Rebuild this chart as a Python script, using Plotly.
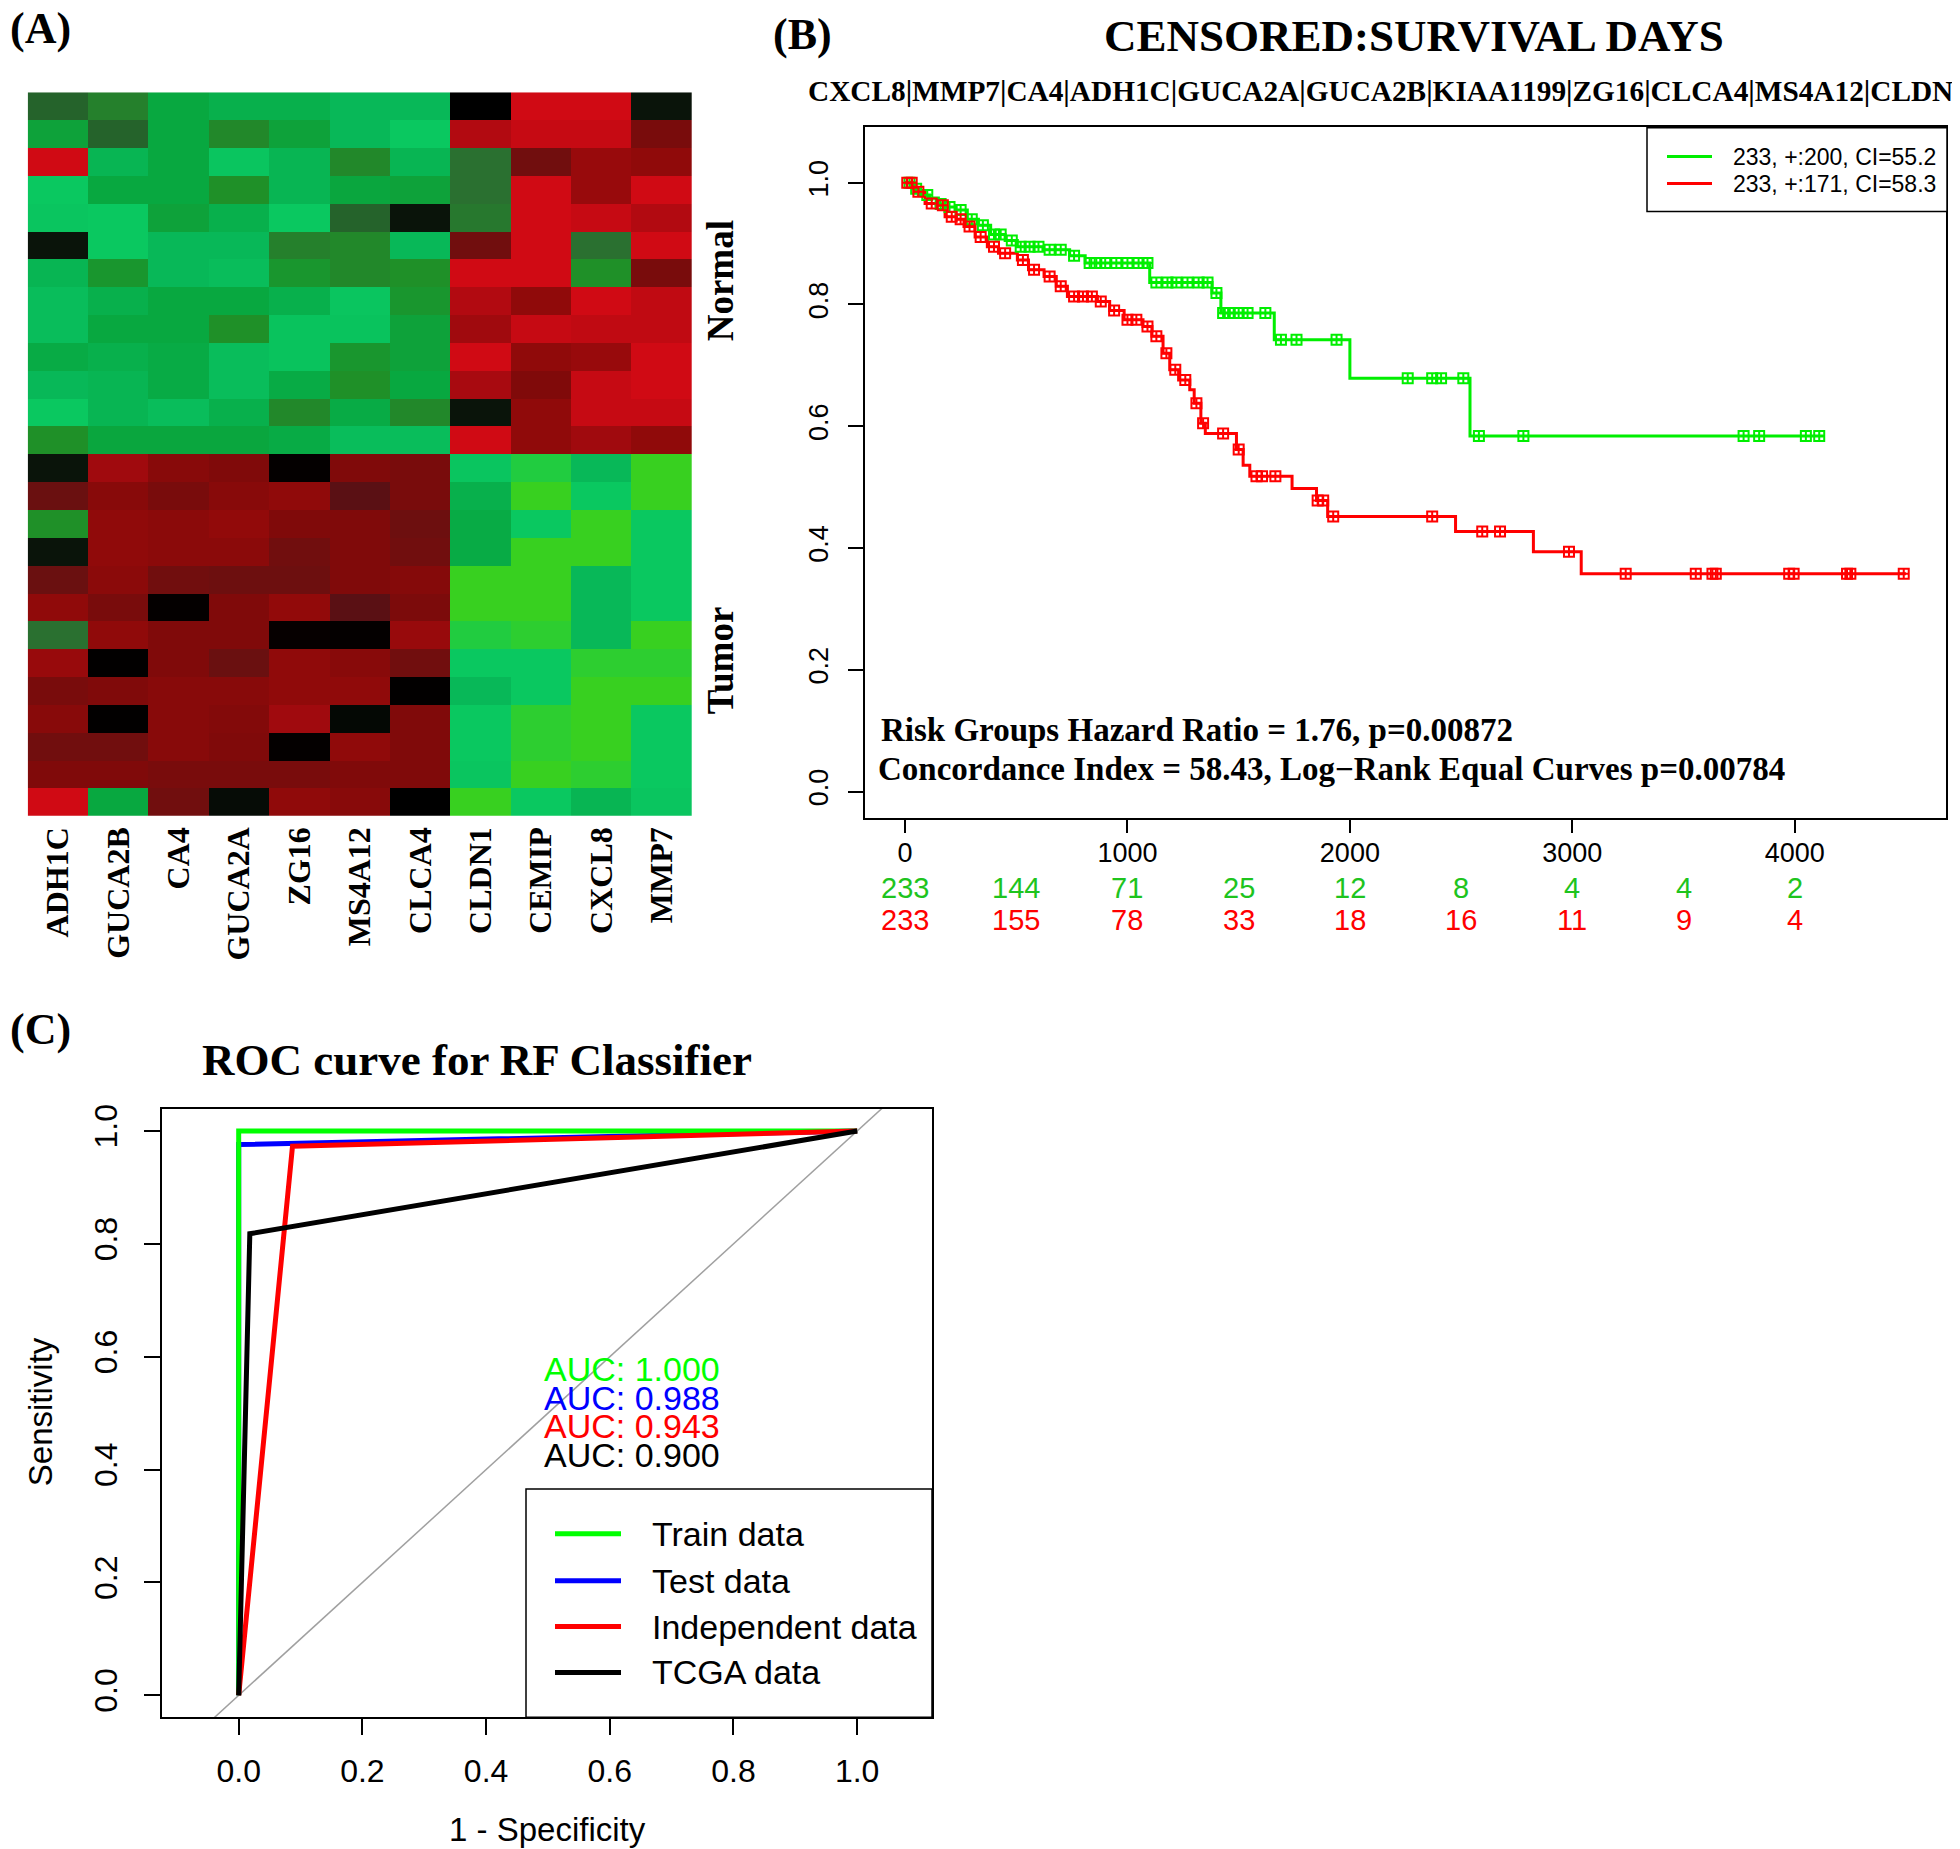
import plotly.graph_objects as go
import numpy as np

# page body adds an 8px margin; the figure is sized so that it fills the window
PAGE_W, PAGE_H, BODY_MARGIN = 1960, 1849, 8
FIG_W, FIG_H = PAGE_W - BODY_MARGIN, PAGE_H - BODY_MARGIN
SERIF = "Liberation Serif, Times New Roman, serif"
SANS = "Liberation Sans, Arial, sans-serif"

# ---------------- Panel A : heatmap data ----------------
genes = ["ADH1C", "GUCA2B", "CA4", "GUCA2A", "ZG16", "MS4A12", "CLCA4",
         "CLDN1", "CEMIP", "CXCL8", "MMP7"]
group_names = ["Normal", "Tumor"]
normal_expr = [
    [-0.35, -0.50, -0.80, -0.85, -0.85, -0.90, -0.90, 0.00, 1.00, 1.00, -0.05],
    [-0.75, -0.35, -0.80, -0.55, -0.75, -0.90, -0.96, 0.85, 0.95, 0.95, 0.50],
    [1.00, -0.88, -0.80, -0.95, -0.88, -0.55, -0.88, -0.40, 0.45, 0.70, 0.65],
    [-0.96, -0.80, -0.80, -0.60, -0.88, -0.78, -0.75, -0.40, 1.00, 0.70, 1.00],
    [-0.95, -0.96, -0.75, -0.85, -0.96, -0.35, -0.05, -0.45, 1.00, 0.95, 0.85],
    [-0.05, -0.96, -0.90, -0.90, -0.50, -0.55, -0.90, 0.45, 1.00, -0.40, 1.00],
    [-0.88, -0.65, -0.90, -0.92, -0.65, -0.55, -0.60, 1.00, 1.00, -0.60, 0.50],
    [-0.92, -0.85, -0.80, -0.80, -0.85, -0.95, -0.65, 0.85, 0.65, 1.00, 0.92],
    [-0.92, -0.80, -0.80, -0.60, -0.94, -0.94, -0.75, 0.75, 0.95, 0.92, 0.92],
    [-0.82, -0.85, -0.82, -0.92, -0.94, -0.65, -0.75, 1.00, 0.65, 0.70, 1.00],
    [-0.90, -0.88, -0.82, -0.92, -0.82, -0.60, -0.80, 0.80, 0.55, 0.95, 1.00],
    [-0.96, -0.88, -0.92, -0.85, -0.55, -0.82, -0.55, -0.05, 0.65, 0.95, 0.95],
    [-0.60, -0.78, -0.78, -0.78, -0.82, -0.92, -0.92, 1.00, 0.65, 0.75, 0.65],
]
tumor_expr = [
    [-0.05, 0.75, 0.60, 0.55, 0.02, 0.55, 0.50, -0.95, -0.98, -0.90, -1.00],
    [0.40, 0.60, 0.50, 0.60, 0.65, 0.30, 0.50, -0.85, -1.00, -0.96, -1.00],
    [-0.60, 0.65, 0.62, 0.66, 0.55, 0.55, 0.42, -0.82, -0.96, -1.00, -0.96],
    [-0.05, 0.65, 0.62, 0.62, 0.45, 0.55, 0.45, -0.82, -1.00, -1.00, -0.96],
    [0.40, 0.62, 0.45, 0.42, 0.42, 0.55, 0.58, -1.00, -1.00, -0.90, -0.96],
    [0.65, 0.50, 0.02, 0.55, 0.66, 0.30, 0.52, -1.00, -1.00, -0.90, -0.96],
    [-0.40, 0.65, 0.55, 0.55, 0.03, 0.02, 0.70, -0.98, -0.99, -0.90, -1.00],
    [0.70, 0.01, 0.55, 0.40, 0.65, 0.60, 0.45, -0.96, -0.96, -0.99, -0.99],
    [0.50, 0.55, 0.60, 0.60, 0.65, 0.65, 0.01, -0.90, -0.96, -1.00, -1.00],
    [0.60, 0.01, 0.60, 0.57, 0.75, -0.02, 0.55, -0.96, -0.99, -1.00, -0.96],
    [0.45, 0.45, 0.60, 0.55, 0.02, 0.65, 0.55, -0.96, -0.99, -1.00, -0.96],
    [0.55, 0.55, 0.50, 0.50, 0.50, 0.55, 0.55, -0.95, -1.00, -0.99, -0.96],
    [1.00, -0.80, 0.45, -0.03, 0.65, 0.60, 0.00, -1.00, -0.96, -0.88, -0.95],
]

# ---------------- Panel B : Kaplan-Meier data ----------------
low_risk_days = [0, 40, 60, 110, 150, 180, 230, 280, 330, 385, 450, 505, 620,
                 740, 810, 1100, 1380, 1420, 1660, 2000, 2540, 4130]
low_risk_surv = [1.0, 0.99, 0.98, 0.975, 0.965, 0.96, 0.955, 0.94, 0.93, 0.915,
                 0.905, 0.895, 0.89, 0.88, 0.868, 0.836, 0.819, 0.786, 0.742,
                 0.679, 0.584, 0.584]
high_risk_days = [0, 40, 90, 140, 180, 230, 265, 315, 370, 420, 505, 555, 625,
                  680, 730, 865, 920, 985, 1070, 1110, 1160, 1190, 1230, 1280,
                  1300, 1330, 1350, 1490, 1520, 1550, 1740, 1850, 1900, 2475,
                  2825, 3040, 4500]
high_risk_surv = [1.0, 0.985, 0.966, 0.963, 0.944, 0.94, 0.928, 0.911, 0.895,
                  0.884, 0.873, 0.857, 0.846, 0.83, 0.813, 0.805, 0.79, 0.775,
                  0.764, 0.748, 0.72, 0.693, 0.676, 0.66, 0.638, 0.605, 0.588,
                  0.562, 0.536, 0.518, 0.498, 0.478, 0.452, 0.427, 0.394, 0.358,
                  0.358]
low_risk_censor_days = [20, 50, 100, 160, 200, 250, 300, 350, 400, 430, 480, 520,
                        560, 600, 650, 700, 760, 830, 860, 900, 950, 1000, 1050,
                        1090, 1130, 1180, 1220, 1270, 1320, 1360, 1400, 1430,
                        1460, 1500, 1540, 1620, 1690, 1760, 1940, 2260, 2370,
                        2410, 2510, 2580, 2780, 3770, 3840, 4050, 4110]
high_risk_censor_days = [10, 30, 60, 120, 170, 210, 250, 290, 340, 400, 450, 530,
                         580, 650, 700, 760, 800, 840, 880, 940, 1000, 1040, 1090,
                         1130, 1175, 1215, 1260, 1310, 1340, 1430, 1500, 1580,
                         1605, 1665, 1855, 1880, 1925, 2370, 2595, 2675, 2985,
                         3240, 3555, 3630, 3645, 3975, 3995, 4235, 4250, 4490]
risk_table_days = [0, 500, 1000, 1500, 2000, 2500, 3000, 3500, 4000]
at_risk_low = [233, 144, 71, 25, 12, 8, 4, 4, 2]
at_risk_high = [233, 155, 78, 33, 18, 16, 11, 9, 4]
km_labels = ["233, +:200, CI=55.2", "233, +:171, CI=58.3"]
km_ticks = [0, 1000, 2000, 3000, 4000]
prob_ticks = [0.0, 0.2, 0.4, 0.6, 0.8, 1.0]

# ---------------- Panel C : ROC data ----------------
roc_sets = ["Train data", "Test data", "Independent data", "TCGA data"]
roc_fpr = [[0, 0, 1], [0, 0, 1], [0, 0.087, 1], [0, 0.018, 1]]
roc_tpr = [[0, 1, 1], [0, 0.976, 1], [0, 0.973, 1], [0, 0.818, 1]]
roc_auc = [1.000, 0.988, 0.943, 0.900]
roc_colors = ["#00ff00", "#0000ff", "#ff0000", "#000000"]
roc_draw_order = [1, 0, 2, 3]
diag_line = [-0.5, 1.5]


def px_x(p):
    return (p - BODY_MARGIN) / FIG_W


def px_y(p):
    return 1 - (p - BODY_MARGIN) / FIG_H


def surv_at(days, t_list, s_list):
    idx = np.searchsorted(np.array(t_list), np.array(days), side="right") - 1
    return list(np.array(s_list)[idx])


fig = go.Figure()

# ---- heatmap ----
colorscale = [
    [0.0, "#38d020"], [0.02, "#0ac860"], [0.05, "#08b858"], [0.10, "#08a840"],
    [0.20, "#1f9028"], [0.30, "#2a7030"], [0.475, "#0a140a"], [0.5, "#000000"],
    [0.525, "#0a0000"], [0.65, "#5a1014"], [0.70, "#6a1010"], [0.775, "#800a0a"],
    [0.825, "#900a0a"], [0.90, "#a80a10"], [1.0, "#d00a14"],
]
z = normal_expr + tumor_expr
fig.add_trace(go.Heatmap(
    z=z, x=genes, y=list(range(len(z))), colorscale=colorscale,
    zmin=-1, zmax=1, showscale=False, xaxis="x", yaxis="y", xgap=0, ygap=0,
))

# ---- Kaplan-Meier ----
km_green, km_red = "#00ee00", "#ff0000"
km_colors = [km_green, km_red]
fig.add_trace(go.Scatter(
    x=low_risk_days, y=low_risk_surv, mode="lines", name=km_labels[0],
    line=dict(color=km_green, width=3, shape="hv"), xaxis="x2", yaxis="y2",
    showlegend=False))
fig.add_trace(go.Scatter(
    x=high_risk_days, y=high_risk_surv, mode="lines", name=km_labels[1],
    line=dict(color=km_red, width=3, shape="hv"), xaxis="x2", yaxis="y2",
    showlegend=False))
fig.add_trace(go.Scatter(
    x=low_risk_censor_days,
    y=surv_at(low_risk_censor_days, low_risk_days, low_risk_surv),
    mode="markers", showlegend=False, xaxis="x2", yaxis="y2",
    marker=dict(symbol="square-cross-open", size=10, color=km_green,
                line=dict(width=2, color=km_green))))
fig.add_trace(go.Scatter(
    x=high_risk_censor_days,
    y=surv_at(high_risk_censor_days, high_risk_days, high_risk_surv),
    mode="markers", showlegend=False, xaxis="x2", yaxis="y2",
    marker=dict(symbol="square-cross-open", size=10, color=km_red,
                line=dict(width=2, color=km_red))))

# ---- ROC ----
fig.add_trace(go.Scatter(x=diag_line, y=diag_line, mode="lines", showlegend=False,
                         line=dict(color="#a0a0a0", width=1.5),
                         xaxis="x3", yaxis="y3"))
for i in roc_draw_order:
    fig.add_trace(go.Scatter(x=roc_fpr[i], y=roc_tpr[i], mode="lines",
                             name=roc_sets[i], showlegend=False,
                             line=dict(color=roc_colors[i], width=5),
                             xaxis="x3", yaxis="y3"))

# ---- annotations / legend boxes ----
ann = []
shapes = []


def add_text(text, x, y, size, family=SERIF, bold=True, color="black",
             xanchor="left", yanchor="middle", angle=0, xref="paper", yref="paper"):
    ann.append(dict(text=text, x=x, y=y, xref=xref, yref=yref, showarrow=False,
                    xanchor=xanchor, yanchor=yanchor, textangle=angle,
                    font=dict(family=family, size=size, color=color,
                              weight="bold" if bold else "normal")))


def add_legend(labels, colors, box, line_x, text_x, ys, size, lw):
    x0, y0, x1, y1 = box
    shapes.append(dict(type="rect", xref="paper", yref="paper",
                       x0=px_x(x0), x1=px_x(x1), y0=px_y(y1), y1=px_y(y0),
                       line=dict(color="black", width=1.5), fillcolor="white",
                       layer="above"))
    for lab, col, yy in zip(labels, colors, ys):
        shapes.append(dict(type="line", xref="paper", yref="paper",
                           x0=px_x(line_x[0]), x1=px_x(line_x[1]),
                           y0=px_y(yy), y1=px_y(yy),
                           line=dict(color=col, width=lw), layer="above"))
        add_text(lab, px_x(text_x), px_y(yy), size, family=SANS, bold=False)


add_text("(A)", px_x(8), px_y(24), 44)
add_text("(B)", px_x(771), px_y(30), 44)
add_text("(C)", px_x(8), px_y(1027), 44)
add_text("CENSORED:SURVIVAL DAYS", px_x(1414), px_y(31), 45, xanchor="center")
add_text("|".join(["CXCL8", "MMP7", "CA4", "ADH1C", "GUCA2A", "GUCA2B", "KIAA1199",
                   "ZG16", "CLCA4", "MS4A12", "CLDN1"]),
         px_x(806), px_y(86), 29.3)
add_text("Risk Groups Hazard Ratio = 1.76, p=0.00872", px_x(879), px_y(727), 33)
add_text("Concordance Index = 58.43, Log\u2212Rank Equal Curves p=0.00784",
         px_x(876), px_y(766), 33)
add_text("ROC curve for RF Classifier", px_x(477), px_y(1058), 45, xanchor="center")
add_text(group_names[0], px_x(720), px_y(277), 37, xanchor="center", angle=-90)
add_text(group_names[1], px_x(720), px_y(657), 37, xanchor="center", angle=-90)

for t, a, b in zip(risk_table_days, at_risk_low, at_risk_high):
    add_text(str(a), t, px_y(885), 29, family=SANS, bold=False, color="#1ec41e",
             xanchor="center", xref="x2")
    add_text(str(b), t, px_y(917), 29, family=SANS, bold=False, color="#ff0000",
             xanchor="center", xref="x2")

auc_y0, auc_step = 0.578, 0.0505
for i, (a, col) in enumerate(zip(roc_auc, roc_colors)):
    add_text(f"AUC: {a:.3f}", 0.49, auc_y0 - i * auc_step, 34, family=SANS,
             bold=False, color=col, xanchor="left", xref="x3", yref="y3")

add_text("1 - Specificity", px_x(547), px_y(1829), 33, family=SANS, bold=False,
         xanchor="center")
add_text("Sensitivity", px_x(40), px_y(1411), 33, family=SANS, bold=False,
         xanchor="center", angle=-90)

add_legend(km_labels, km_colors, (1647, 123, 1947, 207), (1667, 1712), 1731,
           [152, 179], 23, 3)
add_legend(roc_sets, roc_colors, (526, 1488, 932, 1717), (555, 621), 650,
           [1533, 1580, 1626, 1672], 34, 5)

axis_common = dict(showgrid=False, zeroline=False, showline=True, mirror=True,
                   linecolor="black", linewidth=1.5, ticks="outside",
                   tickcolor="black", tickwidth=1.5)

fig.update_layout(
    width=FIG_W, height=FIG_H, autosize=False,
    margin=dict(l=0, r=0, t=0, b=0, pad=0),
    paper_bgcolor="white", plot_bgcolor="white",
    annotations=ann, shapes=shapes, showlegend=False,
    xaxis=dict(domain=[px_x(27.7), px_x(692)], anchor="y", showgrid=False,
               zeroline=False, showline=False, ticks="", tickangle=-90,
               tickfont=dict(family=SERIF, size=32, color="black", weight="bold"),
               ticklabelstandoff=4),
    yaxis=dict(domain=[px_y(813), px_y(87.5)], anchor="x", autorange="reversed",
               showticklabels=False, showgrid=False, zeroline=False, ticks=""),
    xaxis2=dict(domain=[px_x(865), px_x(1946)], anchor="y2", range=[-180, 4680],
                tickvals=km_ticks, ticktext=[str(v) for v in km_ticks],
                ticklen=13, ticklabelstandoff=-3,
                tickfont=dict(family=SANS, size=27, color="black"), **axis_common),
    yaxis2=dict(domain=[px_y(815), px_y(122)], anchor="x2", range=[-0.043, 1.092],
                tickvals=prob_ticks, ticktext=[f"{v:.1f}" for v in prob_ticks],
                tickangle=-90, ticklen=15, ticklabelstandoff=9,
                tickfont=dict(family=SANS, size=27, color="black"), **axis_common),
    xaxis3=dict(domain=[px_x(162), px_x(932)], anchor="y3", range=[-0.124, 1.121],
                tickvals=prob_ticks, ticktext=[f"{v:.1f}" for v in prob_ticks],
                ticklen=16, ticklabelstandoff=8,
                tickfont=dict(family=SANS, size=32, color="black"), **axis_common),
    yaxis3=dict(domain=[px_y(1717), px_y(1107)], anchor="x3", range=[-0.039, 1.039],
                tickvals=prob_ticks, ticktext=[f"{v:.1f}" for v in prob_ticks],
                tickangle=-90, ticklen=16, ticklabelstandoff=14,
                tickfont=dict(family=SANS, size=32, color="black"), **axis_common),
)

fig.write_html("out.html")
